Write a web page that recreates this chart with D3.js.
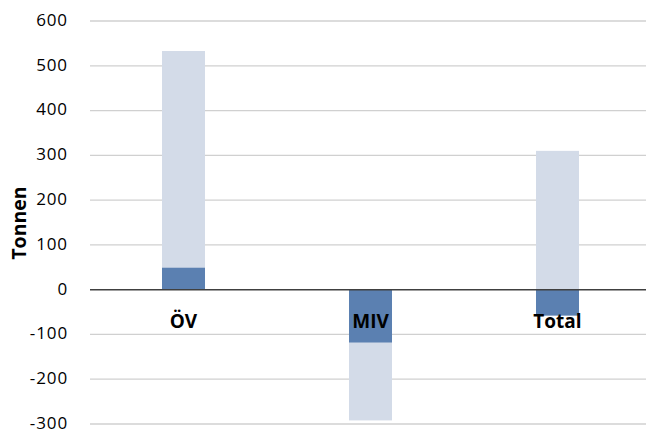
<!DOCTYPE html>
<html><head><meta charset="utf-8">
<script src="https://cdn.jsdelivr.net/npm/d3@7"></script>
<style>body{margin:0;background:#fff}svg{display:block}</style>
</head><body><svg id="c" width="646" height="432"></svg>
<script>
const categories = ["ÖV", "MIV", "Total"];
const lightValues = [533, -292, 310];
const darkValues = [49, -118, -58];
const yTicks = [-300, -200, -100, 0, 100, 200, 300, 400, 500, 600];
const yLabel = "Tonnen";

const svg = d3.select("#c");
const font = "'Open Sans', sans-serif";
const y = d3.scaleLinear().domain([-300, 600]).range([424, 21]);
const x = d3.scaleBand().domain(categories).range([90, 651]).padding(0);
const bw = x.bandwidth() * 0.23;

// gridlines
svg.append("g").selectAll("line").data(yTicks.filter(d => d !== 0)).join("line")
  .attr("x1", 90).attr("x2", 646)
  .attr("y1", d => y(d)).attr("y2", d => y(d))
  .attr("stroke", "#d0d0d0").attr("stroke-width", 1.3);

// y axis labels
const yAxis = d3.axisLeft(y).tickValues(yTicks).tickSize(0).tickPadding(0)
  .tickFormat(d => String(d));
const ga = svg.append("g").attr("transform", "translate(68,0)").call(yAxis);
ga.select(".domain").remove();
ga.selectAll("text").attr("font-family", font).attr("font-size", 17)
  .attr("fill", "#000").attr("letter-spacing", 0.9).attr("dy", "0.26em");

// bars
const cx = c => x(c) + x.bandwidth() / 2;
svg.append("g").selectAll("rect").data(categories).join("rect")
  .attr("x", (c) => cx(c) - bw / 2).attr("width", bw)
  .attr("y", (c, i) => y(Math.max(0, lightValues[i])))
  .attr("height", (c, i) => Math.abs(y(lightValues[i]) - y(0)))
  .attr("fill", "#d3dbe8");
svg.append("g").selectAll("rect").data(categories).join("rect")
  .attr("x", (c) => cx(c) - bw / 2).attr("width", bw)
  .attr("y", (c, i) => y(Math.max(0, darkValues[i])))
  .attr("height", (c, i) => Math.abs(y(darkValues[i]) - y(0)))
  .attr("fill", "#5b80b1");

// zero line
svg.append("line").attr("x1", 90).attr("x2", 646).attr("y1", y(0)).attr("y2", y(0))
  .attr("stroke", "#404040").attr("stroke-width", 1.5);

// category labels
svg.append("g").selectAll("text").data(categories).join("text")
  .attr("x", c => cx(c)).attr("y", 328)
  .attr("text-anchor", "middle")
  .attr("font-family", font).attr("font-weight", "bold").attr("font-size", 19)
  .attr("fill", "#000").text(d => d);

// y title
svg.append("text").attr("transform", "translate(26,223) rotate(-90)")
  .attr("text-anchor", "middle").attr("font-family", font).attr("font-weight", "bold")
  .attr("font-size", 19.5).attr("fill", "#000").text(yLabel);
</script></body></html>
